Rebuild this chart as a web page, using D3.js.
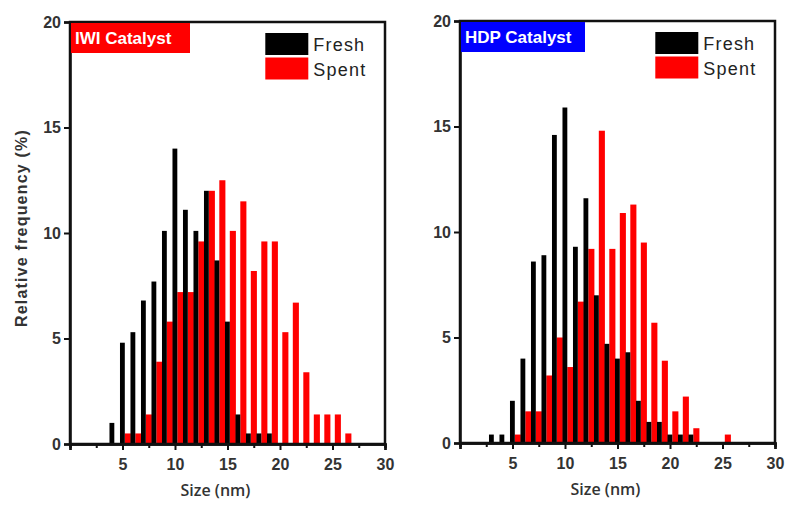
<!doctype html>
<html lang="en">
<head>
  <meta charset="utf-8">
  <title>Size distribution</title>
  <style>
  body { margin: 0; background: #fff; }
  .axis path, .axis line { stroke: #111; }
  .axis text { font-family: "Liberation Sans", Arial, sans-serif; font-weight: bold; font-size: 16px; fill: #333; }
  </style>
</head>
<body>
  <div id="chart"></div>
  <script src="https://cdn.jsdelivr.net/npm/d3@7"></script>
  <script>
    // size bins (nm) and relative frequency (%)
    var iwiFreshSize = [4, 5, 6, 7, 8, 9, 10, 11, 12, 13, 14, 15, 16, 17, 18, 19];
    var iwiFreshVal  = [1.0, 4.8, 5.3, 6.8, 7.7, 10.1, 14.0, 11.1, 10.1, 12.0, 8.7, 5.8, 1.4, 0.5, 0.5, 0.5];
    var iwiSpentSize = [5, 6, 7, 8, 9, 10, 11, 12, 13, 14, 15, 16, 17, 18, 19, 20, 21, 22, 23, 24, 25, 26];
    var iwiSpentVal  = [0.5, 0.5, 1.4, 3.9, 5.8, 7.2, 7.2, 9.6, 12.0, 12.5, 10.1, 11.5, 8.2, 9.6, 9.6, 5.3, 6.7, 3.4, 1.4, 1.4, 1.4, 0.5];

    var hdpFreshSize = [3, 4, 5, 6, 7, 8, 9, 10, 11, 12, 13, 14, 15, 16, 17, 18, 19, 20, 21, 22];
    var hdpFreshVal  = [0.4, 0.4, 2.0, 4.0, 8.6, 8.9, 14.6, 15.9, 9.3, 11.6, 7.0, 4.7, 4.0, 4.3, 2.0, 1.0, 1.0, 0.4, 0.4, 0.4];
    var hdpSpentSize = [5, 6, 7, 8, 9, 10, 11, 12, 13, 14, 15, 16, 17, 18, 19, 20, 21, 22, 25];
    var hdpSpentVal  = [0.4, 1.5, 1.5, 3.2, 5.0, 3.6, 6.7, 9.2, 14.8, 9.2, 10.9, 11.3, 9.5, 5.7, 3.9, 1.5, 2.2, 0.7, 0.4];

    var xTicks = [0, 5, 10, 15, 20, 25, 30];
    var xMinor = [2.5, 7.5, 12.5, 17.5, 22.5, 27.5];
    var yTicks = [0, 5, 10, 15, 20];
    var seriesNames = ["Fresh", "Spent"];

    var width = 785, height = 506;
    var svg = d3.select("#chart").append("svg")
        .attr("width", width)
        .attr("height", height);

    var panel = function(left, top, w, h, title, titleColor, titleW, fresh, freshS, spent, spentS) {
      var g = svg.append("g").attr("transform", "translate(" + left + "," + top + ")");
      var x = d3.scaleLinear().domain([0, 30]).range([0, w]);
      var y = d3.scaleLinear().domain([0, 20]).range([h, 0]);

      // spent first, fresh drawn over it
      g.selectAll(".spent").data(spent).enter().append("rect")
        .attr("x", function(d, i) { return x(spentS[i] + 0.22); })
        .attr("width", x(0.58) - x(0))
        .attr("y", function(d) { return y(d); })
        .attr("height", function(d) { return h - y(d); })
        .attr("fill", "#ff0000");
      g.selectAll(".fresh").data(fresh).enter().append("rect")
        .attr("x", function(d, i) { return x(freshS[i] - 0.24); })
        .attr("width", x(0.46) - x(0))
        .attr("y", function(d) { return y(d); })
        .attr("height", function(d) { return h - y(d); })
        .attr("fill", "#000");

      // frame
      g.append("rect").attr("width", w).attr("height", h)
        .attr("fill", "none").attr("stroke", "#111").attr("stroke-width", 2.5);

      g.append("g").attr("class", "axis").attr("transform", "translate(0," + h + ")")
        .call(d3.axisBottom(x).tickValues(xTicks).tickSize(6).tickPadding(9)
          .tickFormat(function(d) { return d === 0 ? "" : d; }));
      g.append("g").attr("class", "axis").attr("transform", "translate(0," + h + ")")
        .call(d3.axisBottom(x).tickValues(xMinor).tickSize(4).tickFormat(""));
      g.append("g").attr("class", "axis")
        .call(d3.axisLeft(y).tickValues(yTicks).tickSize(6).tickPadding(3));
      g.selectAll(".axis path").attr("stroke-width", 2.5);
      g.selectAll(".axis line").attr("stroke-width", 2);

      // title box
      g.append("rect").attr("x", 1).attr("y", 1).attr("width", titleW).attr("height", 30).attr("fill", titleColor);
      g.append("text").attr("x", 5).attr("y", 22).text(title)
        .attr("fill", "#fff").attr("font-family", "Liberation Sans, Arial, sans-serif")
        .attr("font-weight", "bold").attr("font-size", 17);

      // legend
      var lx = x(18.6);
      var legend = g.selectAll(".leg").data(seriesNames).enter().append("g")
        .attr("transform", function(d, i) { return "translate(" + lx + "," + (11 + i * 24.5) + ")"; });
      legend.append("rect").attr("width", 43).attr("height", 22)
        .attr("fill", function(d, i) { return i === 0 ? "#000" : "#ff0000"; });
      legend.append("text").attr("x", 48).attr("y", 18).text(function(d) { return d; })
        .attr("font-family", "Liberation Sans, Arial, sans-serif").attr("font-size", 18)
        .attr("letter-spacing", 1.2).attr("fill", "#222");

      g.append("text").attr("x", w / 2 - 12).attr("y", h + 52).attr("text-anchor", "middle")
        .text("Size (nm)").attr("font-family", "Open Sans, sans-serif").attr("font-weight", 600)
        .attr("font-size", 16).attr("fill", "#333");
      return g;
    };

    panel(70, 22, 315, 422, "IWI Catalyst", "#ff0000", 119, iwiFreshVal, iwiFreshSize, iwiSpentVal, iwiSpentSize);
    panel(460, 21, 315, 422, "HDP Catalyst", "#0000ff", 124, hdpFreshVal, hdpFreshSize, hdpSpentVal, hdpSpentSize);

    svg.append("text").attr("transform", "translate(27,228) rotate(-90)")
      .attr("text-anchor", "middle").text("Relative frequency (%)")
      .attr("font-family", "Liberation Sans, Arial, sans-serif").attr("font-weight", "bold")
      .attr("font-size", 16).attr("letter-spacing", 1.2).attr("fill", "#333");
  </script>
</body>
</html>
